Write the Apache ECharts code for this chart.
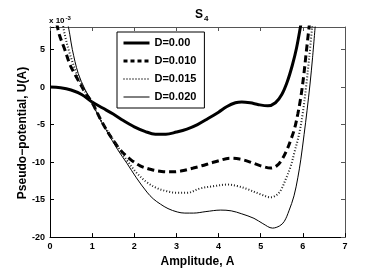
<!DOCTYPE html>
<html><head><meta charset="utf-8">
<script src="https://cdn.jsdelivr.net/npm/echarts@6/dist/echarts.min.js"></script>
<style>html,body{margin:0;padding:0;background:#fff}#c{width:382px;height:273px}</style>
</head><body><div id="c"></div>
<script>
// Legend names
const seriesNames = ['D=0.00', 'D=0.010', 'D=0.015', 'D=0.020'];
// x tick values and y tick values (units of 1e-3)
const xTicks = [0, 1, 2, 3, 4, 5, 6, 7];
const yTicks = [-20, -15, -10, -5, 0, 5];
// [Amplitude A, U(A) x 1e-3]
const d000 = [[0,0],[0.25,-0.1],[0.5,-0.4],[0.75,-1.0],[1,-2.0],[1.25,-2.8],[1.5,-3.6],[1.75,-4.5],[2,-5.3],[2.25,-5.9],[2.5,-6.3],[2.75,-6.3],[3,-6.0],[3.25,-5.6],[3.5,-5.0],[3.75,-4.2],[4,-3.35],[4.2,-2.6],[4.4,-2.1],[4.55,-1.98],[4.75,-2.1],[4.95,-2.35],[5.17,-2.5],[5.35,-2.1],[5.5,-1.0],[5.63,0.7],[5.75,2.9],[5.85,5.2],[5.96,8.6]];
const d010 = [[0.16,8.5],[0.22,7],[0.35,5],[0.48,2.9],[0.6,1.6],[0.71,0.5],[0.83,-0.7],[1.0,-2.1],[1.2,-4.3],[1.35,-5.8],[1.5,-7.1],[1.67,-8.4],[1.9,-9.6],[2.14,-10.5],[2.4,-11.0],[2.65,-11.25],[2.9,-11.3],[3.1,-11.2],[3.4,-10.8],[3.6,-10.5],[3.9,-10.0],[4.29,-9.5],[4.5,-9.6],[4.7,-9.9],[5.0,-10.5],[5.24,-10.8],[5.38,-10.5],[5.5,-9.7],[5.62,-8.4],[5.71,-7.1],[5.8,-5.6],[5.88,-3.6],[5.95,-1.4],[6.02,1.5],[6.08,4.6],[6.16,8.6]];
const d015 = [[0.3,8.5],[0.35,7],[0.44,5],[0.63,1.8],[0.8,-0.3],[1.0,-2.1],[1.2,-4.4],[1.43,-6.4],[1.6,-7.9],[1.83,-9.8],[2.05,-11.4],[2.3,-12.7],[2.55,-13.5],[2.78,-13.9],[3.0,-14.1],[3.25,-14.1],[3.57,-13.5],[3.9,-13.2],[4.21,-13.0],[4.45,-13.2],[4.68,-13.6],[5.0,-14.3],[5.24,-14.7],[5.4,-14.3],[5.5,-13.5],[5.6,-12.2],[5.71,-10.6],[5.8,-8.7],[5.91,-6.3],[6.0,-3.4],[6.08,0.2],[6.15,3.9],[6.23,8.6]];
const d020 = [[0.42,8.5],[0.47,7],[0.53,5],[0.67,1.8],[0.83,-0.3],[1.0,-2.1],[1.15,-3.9],[1.35,-5.9],[1.6,-8.3],[1.83,-10.2],[2.05,-12.1],[2.3,-14.0],[2.45,-14.9],[2.62,-15.6],[2.8,-16.2],[3.02,-16.65],[3.2,-16.8],[3.41,-16.8],[3.7,-16.6],[4.05,-16.4],[4.3,-16.5],[4.55,-16.9],[4.84,-17.5],[5.05,-18.2],[5.28,-18.8],[5.45,-18.5],[5.56,-17.9],[5.67,-16.5],[5.79,-14.5],[5.88,-12.1],[5.95,-9.7],[6.03,-6.3],[6.1,-3.1],[6.17,0.4],[6.23,3.9],[6.3,8.6]];

const FONT = '"Liberation Sans", Arial, Helvetica, sans-serif';
const styles = [
  {color: '#000', width: 3, type: 'solid'},
  {color: '#000', width: 3, type: [7, 4]},
  {color: '#222', width: 2, type: [1, 2]},
  {color: '#000', width: 1, type: 'solid'}
];
const legendStyles = [
  {color: '#000', width: 3, type: 'solid'},
  {color: '#000', width: 3, type: [4, 3]},
  {color: '#444', width: 2, type: [1, 2]},
  {color: '#000', width: 1, type: 'solid'}
];
const chart = echarts.init(document.getElementById('c'), null, {renderer: 'canvas'});
const axisCol = '#000';
const option = {
  animation: false,
  backgroundColor: '#fff',
  textStyle: {fontFamily: FONT},
  title: {
    text: '{s|S}{b|4}',
    left: 190, top: 2,
    textStyle: {rich: {
      s: {fontSize: 12, fontWeight: 'bold', fontFamily: FONT, color: '#000'},
      b: {fontSize: 8, fontWeight: 'bold', fontFamily: FONT, color: '#000', padding: [8, 0, 0, 1]}
    }}
  },
  grid: {left: 50, right: 37, top: 27, bottom: 31, containLabel: false},
  legend: {
    orient: 'vertical', left: 117, top: 32,
    padding: [4, 8, 4, 5], itemGap: 4, itemWidth: 26, itemHeight: 14,
    backgroundColor: '#fff', borderColor: '#000', borderWidth: 1, borderRadius: 0,
    textStyle: {fontFamily: FONT, fontWeight: 'bold', fontSize: 11, color: '#000', lineHeight: 14, height: 14},
    itemStyle: {opacity: 0, borderWidth: 0},
    data: seriesNames.map((n, i) => ({name: n, lineStyle: legendStyles[i], itemStyle: {opacity: 0, borderWidth: 0}}))
  },
  xAxis: [{
    type: 'value', min: xTicks[0], max: xTicks[xTicks.length - 1], interval: 1,
    name: 'Amplitude, A', nameLocation: 'middle', nameGap: 14,
    nameTextStyle: {fontFamily: FONT, fontWeight: 'bold', fontSize: 12, color: '#000'},
    axisLine: {onZero: false, lineStyle: {color: axisCol, width: 1}},
    axisTick: {inside: true, length: 4, lineStyle: {color: axisCol}},
    axisLabel: {fontFamily: FONT, fontWeight: 'bold', fontSize: 9, color: '#000', margin: 5},
    splitLine: {show: false}
  }, {
    type: 'value', position: 'top', min: 0, max: 7, interval: 1,
    axisLine: {show: true, onZero: false, lineStyle: {color: '#555', width: 1}},
    axisTick: {inside: true, length: 4, lineStyle: {color: '#555'}},
    axisLabel: {show: false}, splitLine: {show: false}
  }],
  yAxis: [{
    type: 'value', min: -20, max: 8, interval: 5,
    axisLine: {show: true, onZero: false, lineStyle: {color: axisCol, width: 1}},
    axisTick: {inside: true, length: 4, lineStyle: {color: axisCol}},
    axisLabel: {fontFamily: FONT, fontWeight: 'bold', fontSize: 9, color: '#000', margin: 5,
      formatter: v => yTicks.indexOf(v) >= 0 ? String(v) : ''},
    splitLine: {show: false}
  }, {
    type: 'value', position: 'right', min: -20, max: 8, interval: 5,
    axisLine: {show: true, onZero: false, lineStyle: {color: '#555', width: 1}},
    axisTick: {inside: true, length: 4, lineStyle: {color: '#555'}},
    axisLabel: {show: false}, splitLine: {show: false}
  }],
  graphic: [{
    type: 'text', left: 49, top: 15,
    style: {text: '{a|x 10}{b|-3}', rich: {
      a: {fontSize: 8, fontWeight: 'bold', fontFamily: FONT, fill: '#000'},
      b: {fontSize: 6, fontWeight: 'bold', fontFamily: FONT, fill: '#000', padding: [0, 0, 6, 1]}
    }}
  }, {
    type: 'text', x: 23, y: 133, rotation: Math.PI / 2,
    style: {text: 'Pseudo\u2212potential, U(A)', fontSize: 12, fontWeight: 'bold', fontFamily: FONT,
      fill: '#000', align: 'center', verticalAlign: 'middle'}
  }],
  series: seriesNames.map((n, i) => ({
    name: n, type: 'line', data: [d000, d010, d015, d020][i], showSymbol: false, symbol: 'none', smooth: 0.35,
    lineStyle: styles[i], itemStyle: {color: styles[i].color}
  }))
};
chart.setOption(option);
</script></body></html>
